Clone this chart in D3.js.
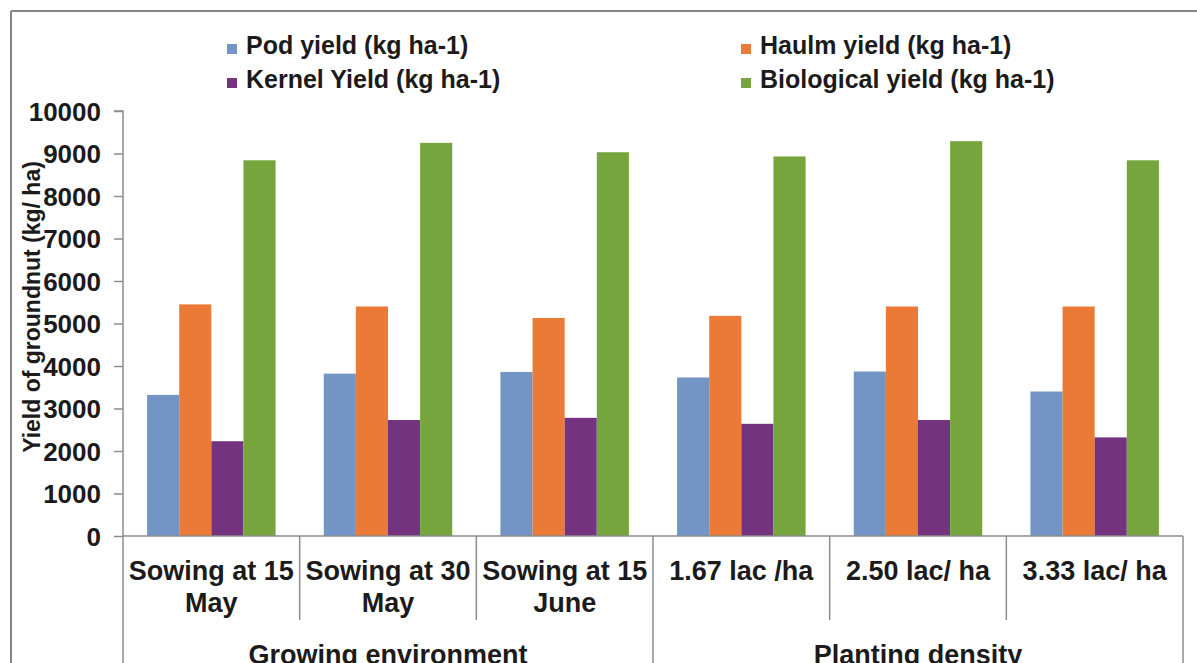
<!DOCTYPE html>
<html>
<head>
<meta charset="utf-8">
<script src="https://cdn.jsdelivr.net/npm/d3@7"></script>
<style>
  body { margin: 0; background: #fff; }
  svg { display: block; }
  text { font-family: "Liberation Sans", Arial, sans-serif; font-weight: bold; fill: #1c1a1a; }
  .axis path, .axis line { stroke: #8c8c8c; stroke-width: 1.5; }
</style>
</head>
<body>
<div id="chart"></div>
<script>
// chart data
const groups = ["Growing environment", "Planting density"];
const categories = [
  ["Sowing at 15", "May"],
  ["Sowing at 30", "May"],
  ["Sowing at 15", "June"],
  ["1.67 lac /ha"],
  ["2.50 lac/ ha"],
  ["3.33 lac/ ha"]
];
const categoryGroup = [0, 0, 0, 1, 1, 1];
const seriesNames = ["Pod yield (kg ha-1)", "Haulm yield (kg ha-1)", "Kernel Yield (kg ha-1)", "Biological yield (kg ha-1)"];
const podYield = [3320, 3820, 3860, 3730, 3870, 3400];
const haulmYield = [5450, 5400, 5130, 5180, 5400, 5400];
const kernelYield = [2230, 2730, 2780, 2640, 2730, 2320];
const biologicalYield = [8840, 9250, 9030, 8930, 9290, 8840];
const yTicks = [0, 1000, 2000, 3000, 4000, 5000, 6000, 7000, 8000, 9000, 10000];

const seriesValues = [podYield, haulmYield, kernelYield, biologicalYield];
const colors = ["#7295c6", "#ea7a35", "#74337f", "#76a53e"];

function drawChart(selectorContainer) {
  const W = 1197, H = 663;
  const left = 123, right = 1183, top = 111, bottom = 536;

  const svg = d3.select(selectorContainer).append("svg")
    .attr("width", W)
    .attr("height", H);

  // outer frame (top + left edges visible)
  svg.append("line").attr("x1", 11).attr("x2", W).attr("y1", 11).attr("y2", 11)
    .attr("stroke", "#8a8580").attr("stroke-width", 2);
  svg.append("line").attr("x1", 11).attr("x2", 11).attr("y1", 11).attr("y2", H)
    .attr("stroke", "#8a8580").attr("stroke-width", 2);

  const idx = d3.range(categories.length);
  const x = d3.scaleBand().domain(idx).range([left, right]).padding(0);
  const xs = d3.scaleBand().domain(d3.range(seriesNames.length))
    .range([0, x.bandwidth()]).paddingInner(0).paddingOuter(0.75);
  const y = d3.scaleLinear().domain([0, 10000]).range([bottom, top]);

  // bars
  seriesValues.forEach((vals, s) => {
    svg.append("g").selectAll("rect")
      .data(vals)
      .enter().append("rect")
      .attr("x", (d, i) => x(i) + xs(s))
      .attr("width", xs.bandwidth())
      .attr("y", d => y(d))
      .attr("height", d => y(0) - y(d))
      .attr("fill", colors[s]);
  });

  // y axis
  const yAxis = d3.axisLeft(y).tickValues(yTicks).tickSize(9).tickPadding(13)
    .tickFormat(d3.format("d"));
  const gy = svg.append("g").attr("class", "axis")
    .attr("transform", "translate(" + left + ",0)")
    .call(yAxis);
  gy.select(".domain").attr("d", "M-9," + top + "H0V" + bottom);
  gy.selectAll("text").style("font-size", "26px").attr("dy", "0.36em");

  // x axis line + category separators
  const sep = svg.append("g").attr("stroke", "#8c8c8c").attr("stroke-width", 1.5);
  sep.append("line").attr("x1", left).attr("x2", right).attr("y1", bottom).attr("y2", bottom);
  const bounds = idx.map(i => x(i)).concat([right]);
  bounds.forEach((bx, i) => {
    const isGroupEdge = i === 0 || i === bounds.length - 1 || categoryGroup[i] !== categoryGroup[i - 1];
    sep.append("line")
      .attr("x1", bx).attr("x2", bx)
      .attr("y1", bottom).attr("y2", isGroupEdge ? H : 620);
  });

  // category labels
  idx.forEach(i => {
    const t = svg.append("text")
      .attr("text-anchor", "middle")
      .style("font-size", "27px");
    categories[i].forEach((line, j) => {
      t.append("tspan")
        .attr("x", x(i) + x.bandwidth() / 2)
        .attr("y", 580 + j * 32)
        .text(line);
    });
  });

  // group labels
  groups.forEach((g, gi) => {
    const members = idx.filter(i => categoryGroup[i] === gi);
    const x0 = x(members[0]);
    const x1 = x(members[members.length - 1]) + x.bandwidth();
    svg.append("text")
      .attr("x", (x0 + x1) / 2)
      .attr("y", 664)
      .attr("text-anchor", "middle")
      .style("font-size", "27px")
      .text(g);
  });

  // y axis title
  svg.append("text")
    .attr("transform", "translate(40,307) rotate(-90)")
    .attr("text-anchor", "middle")
    .style("font-size", "23px")
    .text("Yield of groundnut (kg/ ha)");

  // legend
  const legendPos = [[227, 44], [741, 44], [227, 78], [741, 78]];
  seriesNames.forEach((name, s) => {
    const p = legendPos[s];
    svg.append("rect").attr("x", p[0]).attr("y", p[1]).attr("width", 10).attr("height", 10)
      .attr("fill", colors[s]);
    svg.append("text").attr("x", p[0] + 19).attr("y", p[1] + 10)
      .style("font-size", "25px")
      .text(name);
  });
}

window.onload = () => {
  drawChart("#chart");
}
</script>
</body>
</html>
